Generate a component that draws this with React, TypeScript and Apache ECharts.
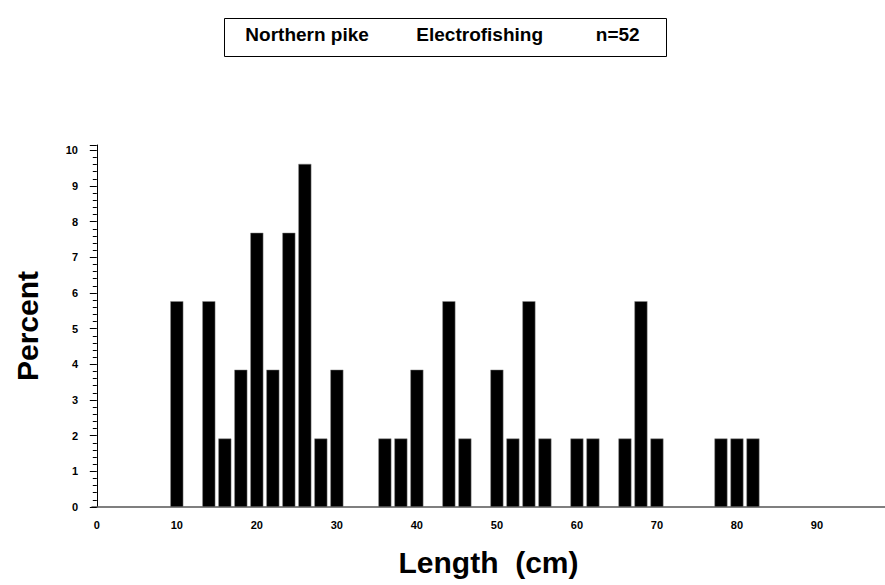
import React, { useEffect, useRef } from "react";
import * as echarts from "echarts";

const titleText = "Northern pike         Electrofishing          n=52";
const lengthBins = [10, 14, 16, 18, 20, 22, 24, 26, 28, 30, 36, 38, 40, 44, 46, 50, 52, 54, 56, 60, 62, 66, 68, 70, 78, 80, 82];
const percentValues = [5.77, 5.77, 1.92, 3.85, 7.69, 3.85, 7.69, 9.62, 1.92, 3.85, 1.92, 1.92, 3.85, 5.77, 1.92, 3.85, 1.92, 5.77, 1.92, 1.92, 1.92, 1.92, 5.77, 1.92, 1.92, 1.92, 1.92];
const xTickLabels = [0, 10, 20, 30, 40, 50, 60, 70, 80, 90];

const FONT = "'Liberation Sans', Arial, Helvetica, sans-serif";

export default function App() {
  const ref = useRef<HTMLDivElement>(null);
  useEffect(() => {
    if (!ref.current) return;
    const chart = echarts.init(ref.current, null, { renderer: "svg" });
    const data = lengthBins.map((x, i) => [x, percentValues[i]]);
    chart.setOption({
      animation: false,
      backgroundColor: "#fff",
      title: {
        text: titleText,
        left: "center",
        top: 20,
        textStyle: { fontFamily: FONT, fontWeight: "bold", fontSize: 19, color: "#000" },
      },
      graphic: [
        {
          type: "rect",
          left: 222,
          top: 16,
          shape: { x: 0, y: 0, width: 442, height: 38 },
          style: { fill: "none", stroke: "#000", lineWidth: 1 },
          silent: true,
        },
      ],
      grid: { left: 92, right: 0, top: 145, bottom: 78, containLabel: false },
      xAxis: {
        type: "value",
        min: -0.6,
        max: 98.5,
        name: "Length  (cm)",
        nameLocation: "middle",
        nameGap: 40,
        nameTextStyle: { fontFamily: FONT, fontWeight: "bold", fontSize: 30, color: "#000" },
        axisLine: { show: true, lineStyle: { color: "#555", width: 1.5 } },
        axisTick: { show: false },
        splitLine: { show: false },
        axisLabel: {
          customValues: xTickLabels,
          margin: 12,
          fontFamily: FONT,
          fontWeight: "bold",
          fontSize: 11,
          color: "#000",
        },
      },
      yAxis: {
        type: "value",
        min: 0,
        max: 10.15,
        interval: 1,
        name: "Percent",
        nameLocation: "middle",
        nameGap: 50,
        nameTextStyle: { fontFamily: FONT, fontWeight: "bold", fontSize: 30, color: "#000" },
        axisLine: { show: true, lineStyle: { color: "#000", width: 1 } },
        axisTick: { show: true, inside: false, length: 7, lineStyle: { color: "#000" } },
        minorTick: { show: true, splitNumber: 5, length: 4, lineStyle: { color: "#000" } },
        splitLine: { show: false },
        minorSplitLine: { show: false },
        axisLabel: {
          margin: 14,
          fontFamily: FONT,
          fontWeight: "bold",
          fontSize: 11,
          color: "#000",
          formatter: (v: number) => (Number.isInteger(v) ? String(v) : ""),
        },
      },
      series: [
        {
          type: "bar",
          data,
          barWidth: 13,
          itemStyle: { color: "#000", borderColor: "#888", borderWidth: 0.5 },
        },
      ],
    });
    return () => chart.dispose();
  }, []);
  return <div ref={ref} style={{ width: 885, height: 585, position: "absolute", left: 0, top: 0 }} />;
}
